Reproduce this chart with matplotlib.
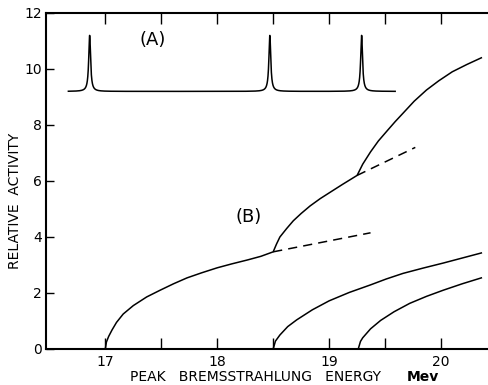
#!/usr/bin/env python3
"""Relative activity vs. peak bremsstrahlung energy, with the resonance line positions."""

import matplotlib

matplotlib.use("Agg")

import matplotlib.pyplot as plt
import numpy as np

# (B) activity curves, read as (energy in Mev, relative activity)
upper_e = [17.0, 17.01, 17.03, 17.06, 17.1, 17.16, 17.25, 17.37, 17.49,
           17.61, 17.73, 17.86, 18.0, 18.13, 18.27, 18.39, 18.5,
           18.53, 18.56, 18.62, 18.68, 18.75, 18.83, 18.92, 19.01, 19.12, 19.25,
           19.3, 19.37, 19.44, 19.52, 19.59, 19.66, 19.76, 19.87, 19.98,
           20.1, 20.23, 20.36]
upper_a = [0.0, 0.25, 0.45, 0.68, 0.95, 1.25, 1.55, 1.86, 2.1,
           2.33, 2.54, 2.72, 2.9, 3.04, 3.18, 3.31, 3.47,
           3.75, 4.0, 4.3, 4.58, 4.84, 5.11, 5.37, 5.6, 5.88, 6.2,
           6.6, 7.04, 7.43, 7.8, 8.12, 8.42, 8.85, 9.25, 9.58,
           9.9, 10.16, 10.4]

middle_e = [18.5, 18.52, 18.56, 18.63, 18.71, 18.85, 19.0, 19.18, 19.37,
            19.51, 19.66, 19.84, 20.02, 20.19, 20.36]
middle_a = [0.0, 0.28, 0.5, 0.8, 1.04, 1.4, 1.72, 2.02, 2.29,
            2.5, 2.7, 2.89, 3.07, 3.25, 3.43]

lower_e = [19.26, 19.28, 19.3, 19.37, 19.46, 19.58, 19.72, 19.87, 20.02,
           20.19, 20.36]
lower_a = [0.0, 0.27, 0.4, 0.72, 1.02, 1.33, 1.63, 1.88, 2.1, 2.33, 2.54]

# extrapolations past each break
dash1_e = [18.5, 19.37]
dash1_a = [3.47, 4.15]
dash2_e = [19.25, 19.77]
dash2_a = [6.2, 7.2]

# (A) line spectrum: resonance positions on a raised baseline
line_e = [16.86, 18.47, 19.29]
line_h = [2.0, 2.0, 2.0]
line_w = 0.01
base_e = [16.67, 19.59]
base_a = 9.2

FONT = "DejaVu Sans"

fig = plt.figure(figsize=(4.88, 3.85), dpi=100)
ax = fig.add_axes([46 / 488, 36 / 385, 451 / 488, 336 / 385])

ax.plot(upper_e, upper_a, color="black", lw=1.1)
ax.plot(middle_e, middle_a, color="black", lw=1.1)
ax.plot(lower_e, lower_a, color="black", lw=1.1)
for de, da in [(dash1_e, dash1_a), (dash2_e, dash2_a)]:
    ax.plot(de, da, color="black", lw=1.1, dashes=(6, 4))

# Lorentzian spikes for the resonance lines
e = np.linspace(base_e[0], base_e[1], 3000)
spec = np.full_like(e, base_a)
for c, h in zip(line_e, line_h):
    spec += h * line_w**2 / ((e - c) ** 2 + line_w**2)
ax.plot(e, spec, color="black", lw=1.1)

ax.text(18.28, 4.7, "(B)", fontsize=13, ha="center", va="center", family=FONT)
ax.text(17.42, 11.05, "(A)", fontsize=13, ha="center", va="center", family=FONT)

ax.set_xlim(16.47, 20.5)
ax.set_ylim(0, 12)
ax.set_xticks([17, 18, 19, 20])
ax.set_xticks([17.5, 18.5, 19.5], minor=True)
ax.set_yticks([0, 2, 4, 6, 8, 10, 12])

ax.tick_params(axis="x", which="both", direction="in", top=True, length=8,
               width=1.0, pad=4, labelsize=10)
ax.tick_params(axis="y", which="both", direction="in", right=True, length=6,
               width=1.0, pad=3, labelsize=10)
for lab in ax.get_xticklabels() + ax.get_yticklabels():
    lab.set_family(FONT)

for sp in ax.spines.values():
    sp.set_linewidth(1.5)

fig.text(15 / 488, 1 - 201 / 385, "RELATIVE  ACTIVITY", rotation=90,
         ha="center", va="center", fontsize=10, family=FONT)
fig.text(256 / 488, 1 - 377 / 385, "PEAK   BREMSSTRAHLUNG   ENERGY",
         ha="center", va="center", fontsize=10, family=FONT)
fig.text(423 / 488, 1 - 377 / 385, "Mev", ha="center", va="center",
         fontsize=10, fontweight="bold", family=FONT)

fig.savefig("out.png", dpi=100)
